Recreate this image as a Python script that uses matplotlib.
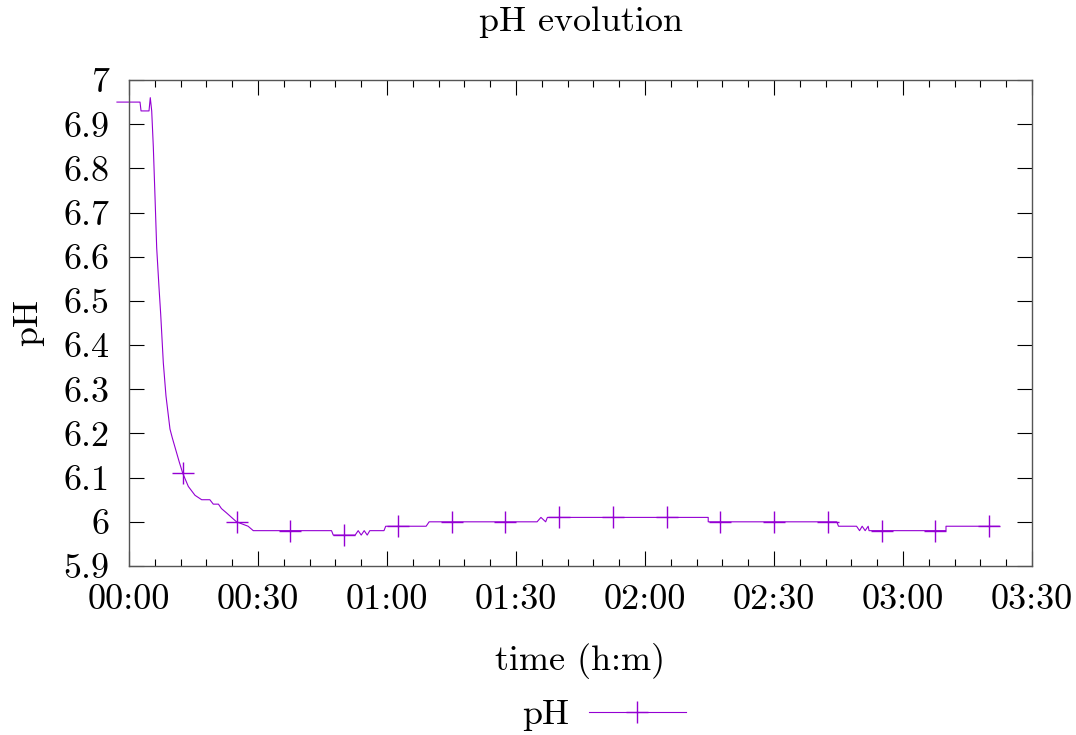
import matplotlib
matplotlib.use("Agg")
import matplotlib.pyplot as plt
from matplotlib.ticker import FuncFormatter, MultipleLocator

plt.rcParams['font.family'] = ['cmr10', 'DejaVu Serif']
plt.rcParams['axes.formatter.use_mathtext'] = True

# time in minutes since start, pH
time_min = [-2.8, 2.56, 2.8, 4.65, 4.95, 5.28, 5.65, 6.05, 6.44, 6.98, 7.37,
            7.98, 8.6, 9.53, 10.07, 11.7, 12.5, 13.8, 15.35, 16.9, 18.8, 19.6,
            20.8, 21.5, 22.7, 25.0, 27.7, 28.9, 34.4, 37.5, 47.1, 47.5, 50.0,
            52.6, 53.3, 54.0, 54.7, 55.4, 56.0, 59.3, 59.7, 62.5, 69.1, 69.8,
            75.0, 87.5, 94.9, 95.8, 96.9, 97.3, 100.0, 112.5, 125.0, 134.7,
            134.7, 137.5, 150.0, 162.5, 164.6, 165.0, 169.2, 169.9, 170.5,
            171.2, 171.9, 172.1, 175.0, 187.5, 190.0, 190.0, 200.0, 202.4]
ph_values = [6.95, 6.95, 6.93, 6.93, 6.96, 6.93, 6.85, 6.735, 6.62, 6.53, 6.47,
             6.36, 6.285, 6.21, 6.19, 6.135, 6.11, 6.08, 6.06, 6.05, 6.05, 6.04,
             6.04, 6.03, 6.02, 6.0, 5.99, 5.98, 5.98, 5.98, 5.98, 5.97, 5.97,
             5.97, 5.98, 5.97, 5.98, 5.97, 5.98, 5.98, 5.99, 5.99, 5.99, 6.0,
             6.0, 6.0, 6.0, 6.01, 6.0, 6.01, 6.01, 6.01, 6.01, 6.01,
             6.0, 6.0, 6.0, 6.0, 6.0, 5.99, 5.99, 5.98, 5.99,
             5.98, 5.99, 5.98, 5.98, 5.98, 5.98, 5.99, 5.99, 5.99]

# gnuplot drew a point every 12.5 minutes
mark_times = [12.5 * k for k in range(1, 17)]
mark_idx = [time_min.index(t) for t in mark_times]

x_ticks = list(range(0, 211, 30))


def hm(x, pos):
    m = int(round(x))
    return f"{m // 60:02d}:{m % 60:02d}"


fig = plt.figure(figsize=(10.76, 7.35), dpi=100)
ax = fig.add_axes([129 / 1076, 1 - 566 / 735, (1032 - 129) / 1076, (566 - 80) / 735])

ax.plot(time_min, ph_values, color='#9400D3', lw=0.8, marker='+', ms=16,
        mew=1.0, markevery=mark_idx, clip_on=False, label='pH')

ax.set_xlim(0, 210)
ax.set_ylim(5.9, 7.0)
ax.set_xticks(x_ticks)
ax.xaxis.set_minor_locator(MultipleLocator(6))
ax.xaxis.set_major_formatter(FuncFormatter(hm))
ax.yaxis.set_major_locator(MultipleLocator(0.1))
ax.yaxis.set_major_formatter(FuncFormatter(lambda v, p: f"{v:g}"))

ax.tick_params(which='both', direction='in', top=True, right=True,
               labelsize=26, color='black', width=0.8)
ax.tick_params(axis='x', which='major', length=11, pad=13)
ax.tick_params(axis='y', which='major', length=11, pad=14)
ax.tick_params(axis='x', which='minor', length=5)
for s in ax.spines.values():
    s.set_color('#555555')
    s.set_linewidth(1.0)

ax.set_title('pH evolution', fontsize=26, pad=35)
ax.set_xlabel('time (h:m)', fontsize=26, labelpad=20)
ax.set_ylabel('pH', fontsize=26, labelpad=14)

fig.legend(loc='center', bbox_to_anchor=(604 / 1076, 1 - 715 / 735),
           frameon=False, fontsize=26, markerfirst=False, handlelength=2.7,
           handletextpad=0.55, borderpad=0)

fig.savefig('out.png', dpi=100)
